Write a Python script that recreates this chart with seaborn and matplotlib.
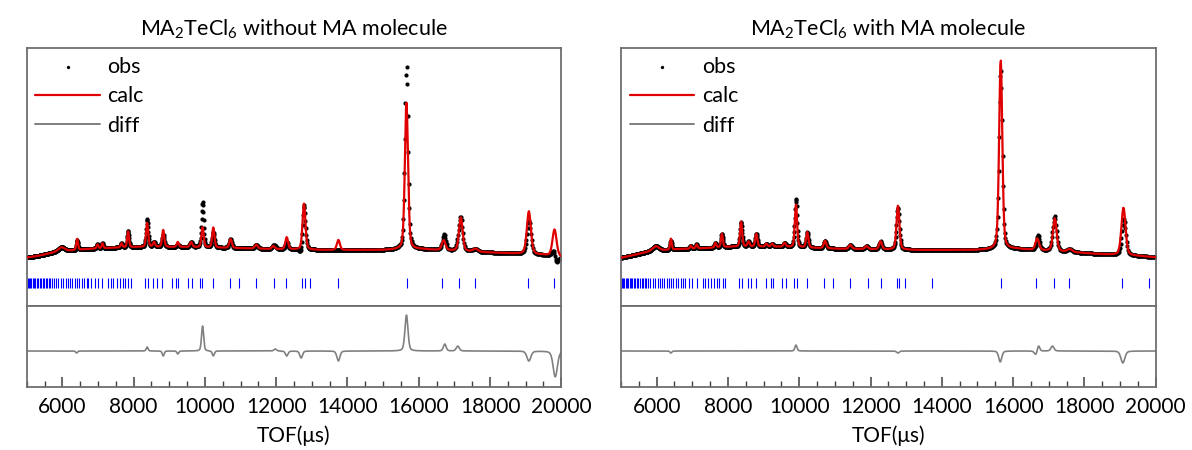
import numpy as np
import matplotlib
matplotlib.use('Agg')
import matplotlib.pyplot as plt
import seaborn as sns

# ---------------- data ----------------
titles = ['MA$_2$TeCl$_6$ without MA molecule', 'MA$_2$TeCl$_6$ with MA molecule']
legend_labels = ['obs', 'calc', 'diff']
xtick_values = [6000, 8000, 10000, 12000, 14000, 16000, 18000, 20000]
xlabel = 'TOF(\u03bcs)'

# background control points (TOF, intensity in arbitrary units)
bg_tof = [5000, 5300, 5850, 6700, 7450, 8100, 9400, 11100, 11750, 13350, 15000, 16050, 17650, 18500, 19500, 20000]
bg_left = [48.5, 50, 54.3, 57, 58.3, 59, 59, 57.7, 57, 56, 56, 56.7, 54, 52.7, 51, 48.7]
bg_right = [48.3, 50.5, 55.0, 57, 58, 59.3, 59.3, 57.2, 57, 56, 56, 57, 53.7, 51.7, 50, 48.7]

# calculated Bragg peaks: centre (us), height, FWHM (us)
calc_pos_left = [5980, 6416, 6985, 7125, 7660, 7845, 8380, 8573, 8830, 9240, 9614, 9935, 10236, 10720,
                 11440, 11920, 12296, 12780, 13745, 15655, 16700, 17180, 17590, 19090, 19810]
calc_h_left = [4, 11, 4, 5, 4, 16, 24, 5, 17, 5, 5, 20, 20, 9,
               4, 3, 12, 46, 10, 147, 10, 34, 3, 43, 27]
calc_w_left = [200, 55, 55, 55, 60, 60, 70, 70, 70, 70, 80, 75, 75, 85,
               95, 95, 90, 95, 100, 105, 120, 120, 160, 135, 135]

calc_pos_right = [5980, 6400, 6960, 7120, 7650, 7830, 8370, 8580, 8795, 9081, 9240, 9590, 9908, 10226,
                  10724, 11434, 11890, 12282, 12770, 15653, 16680, 17170, 17590, 19098]
calc_h_right = [4.5, 11, 3, 4, 4.5, 13.5, 25, 5, 13, 3, 3, 4, 42.7, 15.5,
                7.5, 4, 3, 8, 44, 190, 11.7, 33, 3, 48]
calc_w_right = [200, 55, 55, 55, 60, 60, 70, 70, 70, 70, 70, 80, 75, 75,
                85, 95, 95, 90, 95, 105, 120, 120, 160, 135]

# observed - calculated features: centre (us), amplitude, FWHM (us)
diff_pos_left = [6400, 8380, 8830, 9240, 9935, 10236, 11975, 12296, 12700, 13745, 15655, 16730, 17095, 19090, 19830]
diff_h_left = [-2, 4, -5, -3, 25, -5, 2, -5, -7, -10, 36, 7, 5, -10, -26]
diff_w_left = [60, 60, 60, 60, 70, 70, 90, 85, 90, 100, 100, 90, 100, 130, 140]

diff_pos_right = [6400, 9908, 12770, 15640, 16640, 16713, 17105, 19080]
diff_h_right = [-2, 6, -2, -11, -4, 6, 5, -12]
diff_w_right = [60, 70, 90, 100, 100, 80, 100, 130]

# reflection (tick mark) positions, us
refl_tof = [5030, 5060, 5095, 5130, 5165, 5200, 5240, 5280, 5320, 5360, 5400, 5445, 5490, 5530, 5575,
            5620, 5665, 5710, 5760, 5810, 5886, 5961, 6027, 6092, 6148, 6213, 6279, 6353, 6400, 6466,
            6540, 6606, 6680, 6727, 6793, 6914, 6989, 7120, 7288, 7363, 7428, 7522, 7615, 7690, 7756,
            7849, 7924, 8316, 8391, 8550, 8643, 8783, 9063, 9203, 9250, 9530, 9624, 9857, 9932, 10231,
            10697, 10957, 11425, 11938, 12285, 12734, 12798, 12957, 13731, 15665, 16657, 17142, 17570,
            19055, 19803]

# ---------------- helpers ----------------
def profile(t, pos, h, w, eta=0.35):
    out = np.zeros_like(t)
    for p, a, f in zip(pos, h, w):
        x = 2.0 * (t - p) / f
        g = np.exp(-np.log(2.0) * x ** 2)
        l = 1.0 / (1.0 + x ** 2)
        out += a * ((1 - eta) * g + eta * l)
    return out

sns.set_theme(style='white')
plt.rcParams['font.family'] = ['Lato', 'DejaVu Sans']
plt.rcParams['mathtext.fontset'] = 'custom'
plt.rcParams['mathtext.rm'] = 'Lato'
plt.rcParams['mathtext.it'] = 'Lato:italic'
plt.rcParams['mathtext.bf'] = 'Lato:bold'

fig = plt.figure(figsize=(11.92, 4.5), dpi=100)
fig.patch.set_facecolor('white')

tof = np.geomspace(5000, 20000, 1400)
spine_col = '#6e6e6e'

panels = [
    (0.0224, bg_left, calc_pos_left, calc_h_left, calc_w_left, diff_pos_left, diff_h_left, diff_w_left),
    (0.5210, bg_right, calc_pos_right, calc_h_right, calc_w_right, diff_pos_right, diff_h_right, diff_w_right),
]

for i, (x0, bg, cp, ch, cw, dp, dh, dw) in enumerate(panels):
    w = 0.4485
    ax_top = fig.add_axes([x0, 0.32, w, 0.5733])
    ax_bot = fig.add_axes([x0, 0.14, w, 0.18])

    background = np.interp(tof, bg_tof, bg)
    calc = background + profile(tof, cp, ch, cw)
    diff = profile(tof, dp, dh, dw)
    obs = calc + diff

    sns.scatterplot(x=tof, y=obs, ax=ax_top, color='black', s=9, linewidth=0, label=legend_labels[0], zorder=2)
    sns.lineplot(x=tof, y=calc, ax=ax_top, color='#e00000', lw=1.6, sort=False, estimator=None,
                 label=legend_labels[1], zorder=3)
    # proxy for diff legend entry
    ax_top.plot([], [], color='#808080', lw=1.4, label=legend_labels[2])
    ax_top.vlines(refl_tof, 18, 28, color='#0000ff', lw=0.8, zorder=1)

    sns.lineplot(x=tof, y=diff, ax=ax_bot, color='#808080', lw=1.2, sort=False, estimator=None, legend=False)

    ax_top.set_xlim(5000, 20000)
    ax_top.set_ylim(0, 258)
    ax_bot.set_xlim(5000, 20000)
    ax_bot.set_ylim(-36, 45)

    for ax in (ax_top, ax_bot):
        for s in ax.spines.values():
            s.set_color(spine_col)
            s.set_linewidth(1.3)
            s.set_visible(True)
        ax.set_yticks([])
        ax.set_ylabel('')
    ax_top.set_xticks([])
    ax_top.set_xlabel('')

    ax_bot.set_xticks(xtick_values)
    ax_bot.set_xticklabels([str(v) for v in xtick_values], fontsize=15)
    ax_bot.set_xticks(np.arange(5000, 20001, 500), minor=True)
    ax_bot.tick_params(axis='x', which='major', direction='in', length=7, width=1.1, color='#404040',
                       bottom=True, top=False, pad=7, labelcolor='black')
    ax_bot.tick_params(axis='x', which='minor', direction='in', length=4, width=1.0, color='#404040',
                       bottom=True, top=False)
    ax_bot.set_xlabel(xlabel, fontsize=15, labelpad=6, color='black')

    ax_top.set_title(titles[i], fontsize=15.5, pad=9, color='black')

    leg = ax_top.legend(loc='upper left', frameon=False, fontsize=15.5, handlelength=3.0,
                        handletextpad=0.35, labelspacing=0.45, borderaxespad=0.0, borderpad=0.4,
                        markerscale=0.8)
    for t in leg.get_texts():
        t.set_color('black')

fig.savefig('out.png', dpi=100, facecolor='white')
